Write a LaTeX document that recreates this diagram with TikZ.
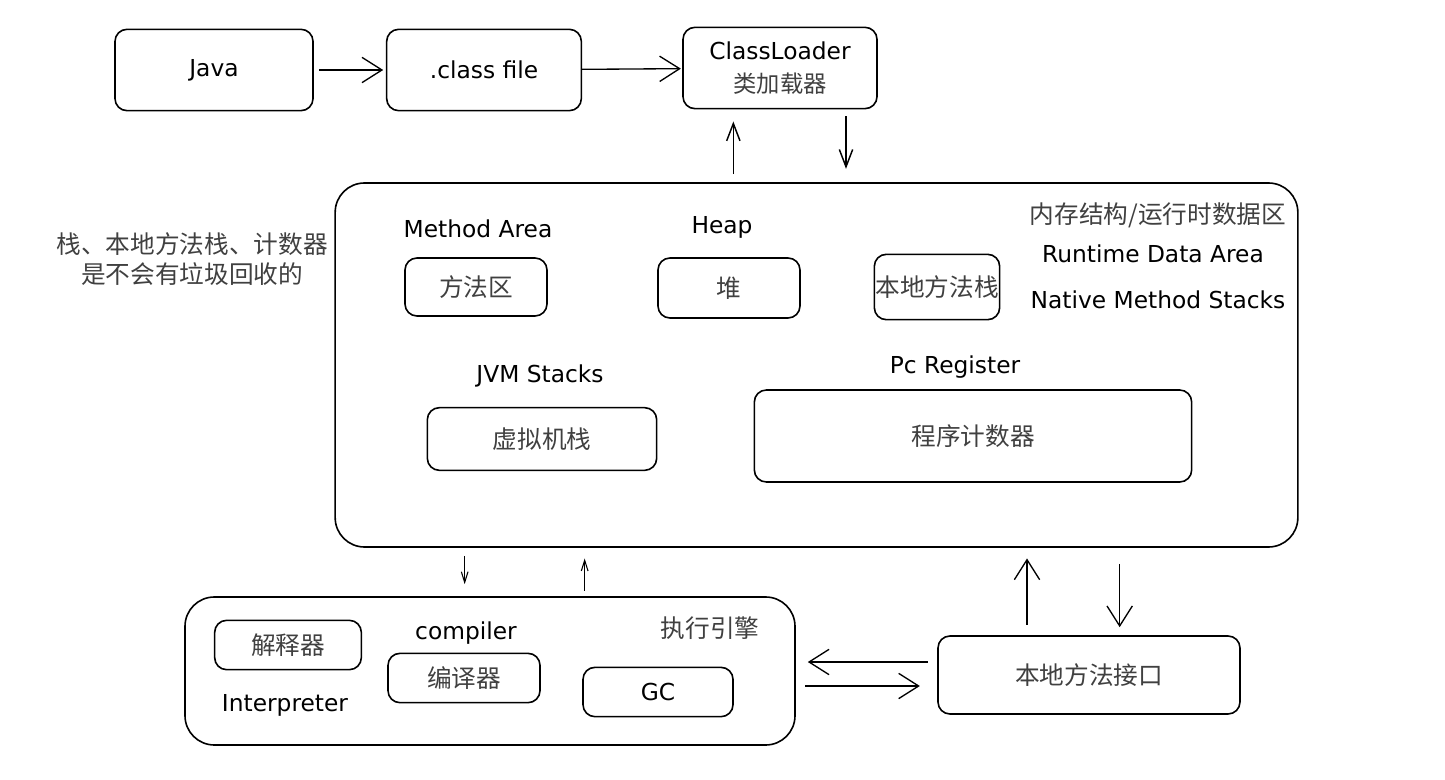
\documentclass[tikz,border=0pt]{standalone}
\usepackage{fontspec}
\usepackage{tikz}
\usetikzlibrary{arrows.meta}
\setmainfont{DejaVu Sans}
\newfontfamily\cjk{Noto Sans CJK SC}

\begin{document}
\begin{tikzpicture}[x=0.75pt, y=-0.75pt,
    box/.style={draw, line width=1.2pt, rounded corners=9pt, inner sep=0pt, font=\cjk\fontsize{18.5}{22}\selectfont, text=black!75},
    bigbox/.style={draw, line width=1.2pt, rounded corners=22pt, inner sep=0pt},
    lbl/.style={inner sep=0pt, font=\fontsize{17.5}{21}\selectfont},
    zh/.style={inner sep=0pt, font=\cjk\fontsize{18.5}{22}\selectfont, text=black!75},
    bigarr/.style={line width=1pt, -{Straight Barb[length=15pt, width=19pt]}},
    midarr/.style={line width=1.1pt, -{Straight Barb[length=13pt, width=10pt]}},
    smallarr/.style={line width=0.8pt, -{Straight Barb[length=8pt, width=5pt]}}]
            \useasboundingbox (0,0) rectangle (1445,780);
            \node[box, minimum width=148.5pt, minimum height=61pt, font=\fontsize{17.5}{21}\selectfont, text=black] (java) at (214,70) {Java};
            \node[box, minimum width=146pt, minimum height=61pt, font=\fontsize{17.5}{21}\selectfont, text=black] (classfile) at (484,70) {.class file};
            \node[box, minimum width=145.5pt, minimum height=61pt, align=center, font=\fontsize{17.5}{21}\selectfont, text=black] (loader) at (780,68) {ClassLoader\\[4pt]{\cjk\color{black!75}类加载器}};
            \node[bigbox, minimum width=722pt, minimum height=273pt] (rda) at (816.5,365) {};
            \node[zh] (rdazh) at (1158,215) {内存结构/运行时数据区};
            \node[lbl] (rdaen) at (1153,254) {Runtime Data Area};
            \node[lbl] (nmsen) at (1158,300) {Native Method Stacks};
            \node[lbl] (maen) at (478,229) {Method Area};
            \node[lbl] (heapen) at (722,227) {Heap};
            \node[box, minimum width=106.5pt, minimum height=43.5pt] (ma) at (476,287) {方法区};
            \node[box, minimum width=106.5pt, minimum height=45pt] (heap) at (729,288) {堆};
            \node[box, minimum width=94pt, minimum height=49pt] (nms) at (937,287) {本地方法栈};
            \node[lbl] (jvmen) at (540,376) {JVM Stacks};
            \node[box, minimum width=172pt, minimum height=47pt] (jvm) at (542,439) {虚拟机栈};
            \node[lbl] (pcen) at (955,367) {Pc Register};
            \node[box, minimum width=328pt, minimum height=69pt] (pc) at (973,436) {程序计数器};
            \node[zh, align=center] (note) at (192,259) {栈、本地方法栈、计数器\\是不会有垃圾回收的};
            \node[bigbox, minimum width=457.5pt, minimum height=111pt] (engine) at (490,671) {};
            \node[zh] (enginezh) at (710,628) {执行引擎};
            \node[box, minimum width=110pt, minimum height=37pt] (interp) at (288,645) {解释器};
            \node[lbl] (interpen) at (285,705) {Interpreter};
            \node[lbl] (compen) at (466,633) {compiler};
            \node[box, minimum width=114pt, minimum height=37pt] (comp) at (464,678) {编译器};
            \node[box, minimum width=112.5pt, minimum height=37pt, font=\fontsize{17.5}{21}\selectfont, text=black] (gc) at (658,692) {GC};
            \node[box, minimum width=226.5pt, minimum height=58.5pt] (jni) at (1089,675) {本地方法接口};
            \draw[bigarr, shorten <=4pt, shorten >=2pt] (java) -- (classfile);
            \draw[bigarr, shorten >=1pt] (classfile) -- (loader);
            \draw[midarr, shorten <=6pt, shorten >=9pt] ([xshift=-35pt]loader.south |- rda.north) -- ([xshift=-35pt]loader.south);
            \draw[midarr, shorten <=5pt, shorten >=10pt] ([xshift=49.5pt]loader.south) -- ([xshift=49.5pt]loader.south |- rda.north);
            \draw[smallarr, shorten <=6pt, shorten >=9pt] ([xshift=-19pt]engine.north |- rda.south) -- ([xshift=-19pt]engine.north);
            \draw[smallarr, shorten <=4pt, shorten >=8pt] ([xshift=71pt]engine.north) -- ([xshift=71pt]engine.north |- rda.south);
            \draw[bigarr, shorten <=8pt, shorten >=8pt] ([xshift=-46.5pt]jni.north) -- ([xshift=-46.5pt]jni.north |- rda.south);
            \draw[bigarr, shorten <=12pt, shorten >=6pt] ([xshift=23pt]jni.north |- rda.south) -- ([xshift=23pt]jni.north);
            \draw[bigarr, shorten <=7pt, shorten >=9pt] ([yshift=9.75pt]jni.west) -- ([yshift=9.75pt]jni.west -| engine.east);
            \draw[bigarr, shorten <=7pt, shorten >=13pt] ([yshift=-11.25pt]engine.east) -- ([yshift=-11.25pt]engine.east -| jni.west);
        \end{tikzpicture}
\end{document}
